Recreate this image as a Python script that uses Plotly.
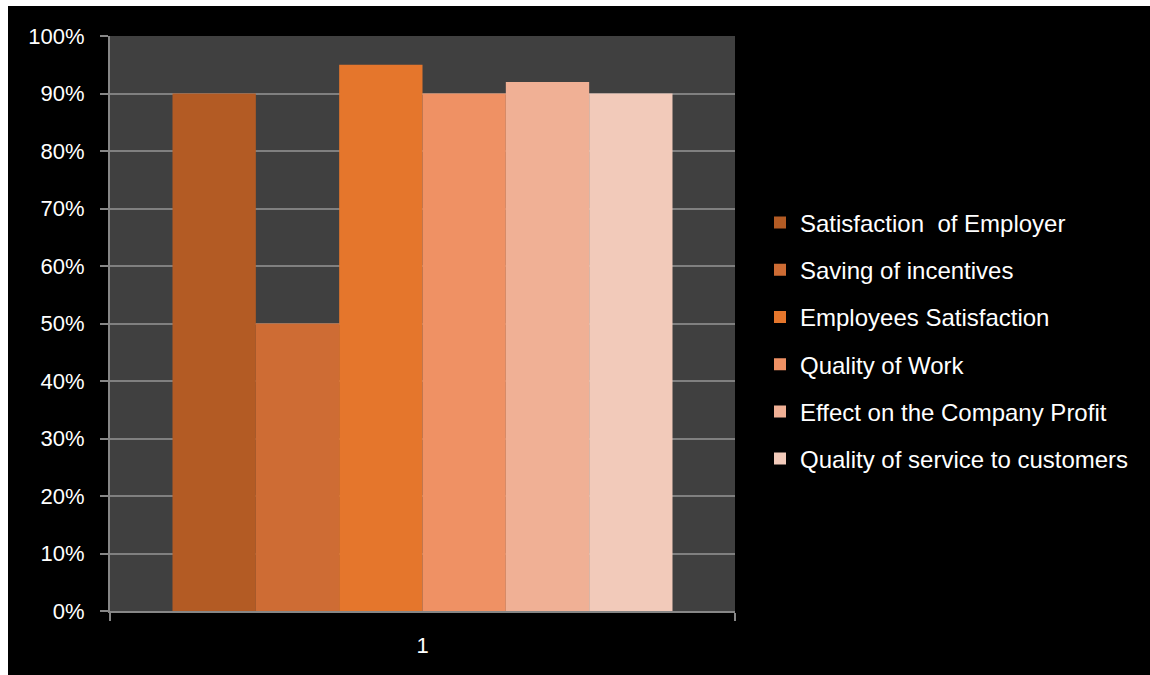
import plotly.graph_objects as go

categories = ["1"]
series_names = [
    "Satisfaction \u00a0of Employer",
    "Saving of incentives",
    "Employees Satisfaction",
    "Quality of Work",
    "Effect on the Company Profit",
    "Quality of service to customers",
]
series_values = [0.90, 0.50, 0.95, 0.90, 0.92, 0.90]
series_colors = ["#B35B24", "#CE6C34", "#E5762C", "#EF9164", "#F0B095", "#F2CABA"]
y_ticks = [i / 10 for i in range(11)]

fig = go.Figure()
for i, (name, val, col) in enumerate(zip(series_names, series_values, series_colors)):
    fig.add_trace(go.Bar(
        x=categories, y=[val], name=name, legendgroup=f"g{i}",
        marker=dict(color=col, line=dict(width=0)),
    ))

W, H = 1150, 675
L, R, T, B = 110, 735, 36, 611
pw, ph = R - L, B - T

def px(x):
    return (x - L) / pw

def py(y):
    return (B - y) / ph

shapes = [
    dict(type="rect", xref="paper", yref="paper", x0=px(0), x1=px(8), y0=py(H), y1=py(0),
         fillcolor="white", line=dict(width=0), layer="below"),
    dict(type="rect", xref="paper", yref="paper", x0=px(0), x1=px(W), y0=py(6), y1=py(0),
         fillcolor="white", line=dict(width=0), layer="below"),
]

fig.update_layout(
    width=W, height=H,
    margin=dict(l=L, r=W - R, t=T, b=H - B, pad=0),
    paper_bgcolor="black", plot_bgcolor="#404040",
    barmode="group", bargap=0.2, bargroupgap=0,
    font=dict(family="Liberation Sans", color="white", size=22),
    showlegend=True,
    legend=dict(x=px(760), xanchor="left", y=py(341), yanchor="middle",
                font=dict(size=24, color="white"), bgcolor="rgba(0,0,0,0)",
                traceorder="grouped", tracegroupgap=13, itemclick=False),
    shapes=shapes,
)
fig.update_xaxes(type="category", showline=True, linecolor="#868686", linewidth=2,
                 ticks="outside", tickson="boundaries", ticklen=8, tickcolor="#868686",
                 tickwidth=2, showgrid=False, ticklabelstandoff=14,
                 tickfont=dict(size=22, color="white"))
fig.update_yaxes(range=[0, 1], tickvals=y_ticks, tickformat=".0%", showline=True,
                 linecolor="#868686", linewidth=2, ticks="outside", ticklen=8,
                 tickcolor="#868686", tickwidth=2, showgrid=True, gridcolor="#808080",
                 gridwidth=1.5, zeroline=False, ticklabelstandoff=11,
                 tickfont=dict(size=22, color="white"))

fig.write_html("out.html")
